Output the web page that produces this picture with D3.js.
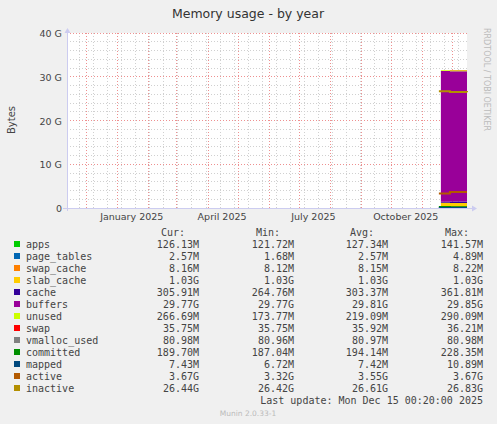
<!DOCTYPE html>
<html><head><meta charset="utf-8">
<script src="https://cdn.jsdelivr.net/npm/d3@7"></script>
<style>body{margin:0;background:#f0f0f0}svg{display:block}</style>
</head><body>
<script>
// sample times (UTC) and values in GB
var sampleDates = ['2025-11-19T00:00:00Z', '2025-11-28T00:00:00Z', '2025-12-15T00:20:00Z'];
var areaNames = ['apps', 'page_tables', 'swap_cache', 'slab_cache', 'cache', 'buffers', 'unused', 'swap'];
var areaValues = [
  [0.141, 0.126, 0.126],
  [0.0049, 0.0026, 0.0026],
  [0.0082, 0.0082, 0.0082],
  [1.03, 1.03, 1.03],
  [0.26, 0.306, 0.306],
  [29.85, 29.77, 29.77],
  [0.17, 0.267, 0.267],
  [0.036, 0.036, 0.036]
];
var lineNames = ['vmalloc_used', 'committed', 'mapped', 'active', 'inactive'];
var lineValues = [
  [0.081, 0.081, 0.081],
  [0.228, 0.19, 0.19],
  [0.0109, 0.0074, 0.0074],
  [3.32, 3.67, 3.67],
  [26.7, 26.5, 26.44]
];
var legendNames = ['apps', 'page_tables', 'swap_cache', 'slab_cache', 'cache', 'buffers', 'unused', 'swap', 'vmalloc_used', 'committed', 'mapped', 'active', 'inactive'];
var legendColors = ['#00cc00', '#0066b3', '#ff8000', '#ffcc00', '#330099', '#990099', '#ccff00', '#ff0000', '#808080', '#008f00', '#00487d', '#b35a00', '#b38f00'];
var curVals = ['126.13M', '2.57M', '8.16M', '1.03G', '305.91M', '29.77G', '266.69M', '35.75M', '80.98M', '189.70M', '7.43M', '3.67G', '26.44G'];
var minVals = ['121.72M', '1.68M', '8.12M', '1.03G', '264.76M', '29.77G', '173.77M', '35.75M', '80.96M', '187.04M', '6.72M', '3.32G', '26.42G'];
var avgVals = ['127.34M', '2.57M', '8.15M', '1.03G', '303.37M', '29.81G', '219.09M', '35.92M', '80.97M', '194.14M', '7.42M', '3.55G', '26.61G'];
var maxVals = ['141.57M', '4.89M', '8.22M', '1.03G', '361.81M', '29.85G', '290.09M', '36.21M', '80.98M', '228.35M', '10.89M', '3.67G', '26.83G'];
var yTicks = [0, 10, 20, 30, 40];
var monthLabels = ['2025-01-01', '2025-04-01', '2025-07-01', '2025-10-01'];

var W = 497, H = 424;
var svg = d3.select('body').append('svg').attr('width', W).attr('height', H);
var font = 'DejaVu Sans, sans-serif', mono = 'DejaVu Sans Mono, monospace';

var x = d3.scaleUtc()
  .domain([new Date('2024-11-11T12:00:00Z'), new Date('2025-12-15T00:20:00Z')])
  .range([67, 467]);
var y = d3.scaleLinear().domain([0, 40]).range([208, 33]);

svg.append('text').attr('x', 248).attr('y', 18).attr('text-anchor', 'middle')
  .attr('font-family', font).attr('font-size', 12.5).attr('fill', '#333').text('Memory usage - by year');
svg.append('text').attr('transform', 'translate(484,28) rotate(90)')
  .attr('font-family', font).attr('font-size', 8).attr('fill', '#bbb').text('RRDTOOL / TOBI OETIKER');
svg.append('text').attr('transform', 'translate(15,120) rotate(-90)').attr('text-anchor', 'middle')
  .attr('font-family', font).attr('font-size', 10).attr('fill', '#444').text('Bytes');

svg.append('rect').attr('x', 67).attr('y', 33).attr('width', 400).attr('height', 175).attr('fill', '#fff');

// grid
var g = svg.append('g').attr('shape-rendering', 'crispEdges');
d3.range(0, 41, 2).forEach(function(v) {
  if (v % 10 === 0) return;
  g.append('line').attr('x1', 67).attr('x2', 467).attr('y1', y(v)).attr('y2', y(v))
    .attr('stroke', '#d0d0d0').attr('stroke-dasharray', '1,2');
});
var biweek = [];
for (var t = new Date('2024-11-24T00:00:00Z'); t < x.domain()[1]; t = d3.utcDay.offset(t, 14)) biweek.push(t);
biweek.forEach(function(d) {
  g.append('line').attr('x1', x(d)).attr('x2', x(d)).attr('y1', 33).attr('y2', 208)
    .attr('stroke', '#d0d0d0').attr('stroke-dasharray', '1,2');
});
yTicks.forEach(function(v) {
  g.append('line').attr('x1', 67).attr('x2', 467).attr('y1', y(v)).attr('y2', y(v))
    .attr('stroke', '#ee9090').attr('stroke-dasharray', '1,2');
});
d3.utcMonth.range(x.domain()[0], x.domain()[1]).forEach(function(d) {
  g.append('line').attr('x1', x(d)).attr('x2', x(d)).attr('y1', 33).attr('y2', 208)
    .attr('stroke', '#ee9090').attr('stroke-dasharray', '1,2');
});

// stacked areas
var dates = sampleDates.map(function(s) { return new Date(s); });
var rows = dates.map(function(d, i) {
  var r = {date: d};
  areaNames.forEach(function(n, k) { r[n] = areaValues[k][i]; });
  return r;
});
var stack = d3.stack().keys(areaNames)(rows);
var area = d3.area().curve(d3.curveStepAfter)
  .x(function(d) { return x(d.data.date); })
  .y0(function(d) { return y(d[0]); }).y1(function(d) { return y(d[1]); });
svg.append('g').selectAll('path').data(stack).enter().append('path')
  .attr('d', area).attr('fill', function(d, i) { return legendColors[i]; });

var line = d3.line().curve(d3.curveStepAfter)
  .x(function(d) { return x(d.date); }).y(function(d) { return y(d.v); });
lineNames.forEach(function(n, k) {
  var pts = dates.map(function(d, i) { return {date: d, v: lineValues[k][i]}; });
  pts[0] = {date: d3.utcDay.offset(pts[0].date, -2), v: pts[0].v};
  svg.append('path').attr('d', line(pts)).attr('fill', 'none')
    .attr('stroke', legendColors[areaNames.length + k]).attr('stroke-width', 2);
});

// axes
svg.append('line').attr('x1', 63).attr('x2', 472).attr('y1', 208.5).attr('y2', 208.5).attr('stroke', '#ccccf0');
svg.append('line').attr('x1', 67.5).attr('x2', 67.5).attr('y1', 211).attr('y2', 29).attr('stroke', '#ccccf0');
svg.append('path').attr('d', 'M472,205.5L477,208.5L472,211.5Z').attr('fill', '#ccccf0');
svg.append('path').attr('d', 'M64.5,33L67.5,28L70.5,33Z').attr('fill', '#ccccf0');
yTicks.forEach(function(v) {
  svg.append('text').attr('x', 62).attr('y', y(v) + 4).attr('text-anchor', 'end')
    .attr('font-family', font).attr('font-size', 9.5).attr('fill', '#444').text(v === 0 ? '0' : v + ' G');
});
var fmt = d3.utcFormat('%B %Y');
monthLabels.forEach(function(s) {
  var d = new Date(s + 'T00:00:00Z');
  svg.append('text').attr('x', x(d3.utcDay.offset(d, 14))).attr('y', 220).attr('text-anchor', 'middle')
    .attr('font-family', font).attr('font-size', 9.5).attr('fill', '#444').text(fmt(d));
});

// legend
var cols = [199, 294, 388, 483], heads = ['Cur:', 'Min:', 'Avg:', 'Max:'], tables = [curVals, minVals, avgVals, maxVals];
heads.forEach(function(h, j) {
  svg.append('text').attr('x', cols[j] - 14).attr('y', 236).attr('text-anchor', 'end')
    .attr('font-family', mono).attr('font-size', 10).attr('fill', '#444').text(h);
});
legendNames.forEach(function(n, i) {
  var yy = 248 + i * 12;
  svg.append('rect').attr('x', 14).attr('y', yy - 7).attr('width', 6).attr('height', 6).attr('fill', legendColors[i]);
  svg.append('text').attr('x', 26).attr('y', yy).attr('font-family', mono).attr('font-size', 10)
    .attr('fill', '#444').text(n);
  tables.forEach(function(tb, j) {
    svg.append('text').attr('x', cols[j]).attr('y', yy).attr('text-anchor', 'end')
      .attr('font-family', mono).attr('font-size', 10).attr('fill', '#444').text(tb[i]);
  });
});
svg.append('text').attr('x', 483).attr('y', 404).attr('text-anchor', 'end').attr('font-family', mono)
  .attr('font-size', 10).attr('fill', '#444').text('Last update:  Mon Dec 15 00:20:00 2025');
svg.append('text').attr('x', 248).attr('y', 416).attr('text-anchor', 'middle').attr('font-family', font)
  .attr('font-size', 7.5).attr('fill', '#bbb').text('Munin 2.0.33-1');
</script>
</body></html>
